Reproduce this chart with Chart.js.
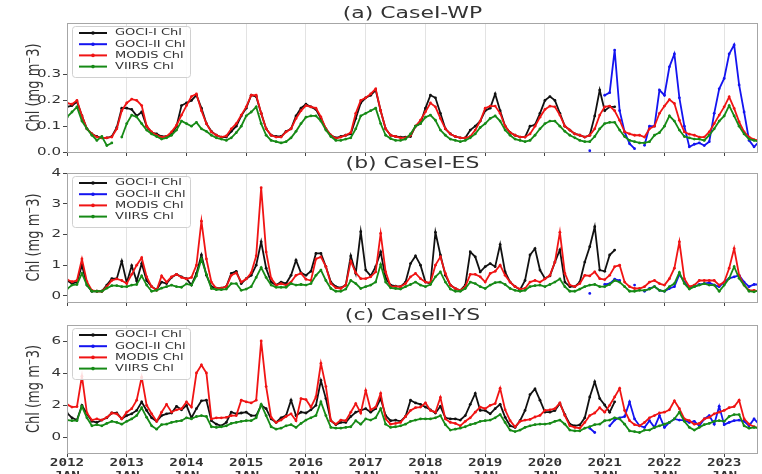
<!DOCTYPE html>
<html>
<head>
<meta charset="utf-8">
<script src="https://cdn.jsdelivr.net/npm/chart.js@4.4.1/dist/chart.umd.min.js"></script>
<style>
  html, body { margin: 0; padding: 0; background: #fff; }
  #wrap { position: relative; width: 762px; height: 474px; overflow: hidden; background: #fff; }
  #wrap canvas { position: absolute; left: 0; }
</style>
</head>
<body>
<div id="wrap">
  <canvas id="ca" width="762" height="160" style="top:0px"></canvas>
  <canvas id="cb" width="762" height="156" style="top:154px"></canvas>
  <canvas id="cc" width="762" height="168" style="top:306px"></canvas>
</div>
<script>
// Monthly chlorophyll-a means, first value = January 2012.
// GOCI-I series start in Jan 2012, GOCI-II series start at month index 105 (Oct 2020).
const years = [2012, 2013, 2014, 2015, 2016, 2017, 2018, 2019, 2020, 2021, 2022, 2023];
const yearLabels = ["2012", "2013", "2014", "2015", "2016", "2017", "2018", "2019", "2020", "2021", "2022", "2023"];
const monthLabel = "JAN";
const seriesNames = ["GOCI-I Chl", "GOCI-II Chl", "MODIS Chl", "VIIRS Chl"];
const goci2Start = 105;

// (a) CaseI-WP
const goci1A = [
  0.175, 0.18, 0.195, 0.14, 0.09, 0.07, 0.06, 0.055, 0.055, 0.06, 0.095, 0.17,
  0.17, 0.165, 0.14, 0.155, 0.1, 0.075, 0.07, 0.06, 0.06, 0.07, 0.1, 0.18,
  0.19, 0.2, 0.22, 0.17, 0.11, 0.08, 0.065, 0.058, 0.058, 0.08, 0.1, 0.14,
  0.17, 0.22, 0.215, 0.15, 0.09, 0.065, 0.06, 0.06, 0.08, 0.09, 0.14, 0.17,
  0.185, 0.175, 0.165, 0.13, 0.09, 0.065, 0.055, 0.06, 0.065, 0.07, 0.13, 0.19,
  0.21, 0.22, 0.24, 0.16, 0.09, 0.065, 0.06, 0.058, 0.058, 0.06, 0.1, 0.11,
  0.17, 0.22, 0.21, 0.15, 0.09, 0.07, 0.06, 0.055, 0.055, 0.085, 0.1, 0.12,
  0.16, 0.17, 0.225, 0.16, 0.1, 0.075, 0.065, 0.058, 0.058, 0.1, 0.105, 0.15,
  0.2, 0.215, 0.2, 0.15, 0.1, 0.085, 0.07, 0.065, 0.058, 0.065, 0.14, 0.24,
  0.16, 0.175, 0.175
];
const goci2A = [
  0.005, null, null, 0.22, 0.23, 0.395, 0.16, 0.078, 0.032, 0.013, null, 0.026, 0.1, 0.1, 0.24,
  0.22, 0.33, 0.38, 0.21, 0.1, 0.02, 0.03, 0.035, 0.025, 0.04, 0.15, 0.245,
  0.285, 0.38, 0.415, 0.26, 0.155, 0.045, 0.02, 0.04
];
const modisA = [
  0.19, 0.185, 0.2, 0.14, 0.09, 0.07, 0.058, 0.055, 0.055, 0.058, 0.09, 0.16,
  0.19, 0.205, 0.2, 0.18, 0.1, 0.078, 0.065, 0.058, 0.06, 0.078, 0.104, 0.143,
  0.18, 0.215, 0.225, 0.16, 0.11, 0.078, 0.065, 0.058, 0.062, 0.09, 0.11, 0.143,
  0.175, 0.22, 0.22, 0.15, 0.09, 0.065, 0.058, 0.058, 0.078, 0.09, 0.13, 0.16,
  0.18, 0.175, 0.17, 0.136, 0.09, 0.065, 0.052, 0.058, 0.065, 0.075, 0.15, 0.2,
  0.21, 0.225, 0.245, 0.16, 0.09, 0.065, 0.06, 0.055, 0.055, 0.065, 0.1, 0.123,
  0.156, 0.19, 0.175, 0.13, 0.09, 0.07, 0.06, 0.055, 0.055, 0.06, 0.085, 0.12,
  0.17, 0.178, 0.178, 0.15, 0.1, 0.075, 0.065, 0.058, 0.058, 0.07, 0.1, 0.135,
  0.165, 0.178, 0.175, 0.143, 0.1, 0.085, 0.07, 0.065, 0.058, 0.065, 0.09, 0.143,
  0.175, 0.178, 0.16, 0.123, 0.078, 0.07, 0.065, 0.065, 0.058, 0.09, 0.1, 0.15,
  0.178, 0.203, 0.188, 0.123, 0.078, 0.069, 0.065, 0.058, 0.058, 0.078, 0.11, 0.143,
  0.175, 0.214, 0.169, 0.117, 0.078, 0.058, 0.048, 0.045
];
const viirsA = [
  0.135, 0.155, 0.175, 0.12, 0.09, 0.065, 0.045, 0.06, 0.025, 0.035, null, 0.058,
  0.11, 0.143, 0.136, 0.11, 0.085, 0.07, 0.06, 0.05, 0.055, 0.065, 0.085, 0.12,
  0.11, 0.1, 0.115, 0.09, 0.08, 0.065, 0.055, 0.05, 0.045, 0.055, 0.075, 0.1,
  0.14, 0.155, 0.175, 0.11, 0.065, 0.045, 0.04, 0.035, 0.04, 0.055, 0.08, 0.11,
  0.135, 0.14, 0.14, 0.12, 0.085, 0.06, 0.045, 0.045, 0.05, 0.055, 0.09, 0.14,
  0.15, 0.16, 0.17, 0.11, 0.065, 0.052, 0.045, 0.045, 0.05, 0.07, 0.1, 0.11,
  0.135, 0.143, 0.123, 0.085, 0.065, 0.05, 0.045, 0.04, 0.045, 0.055, 0.07, 0.095,
  0.11, 0.13, 0.14, 0.12, 0.085, 0.065, 0.05, 0.045, 0.04, 0.045, 0.065, 0.09,
  0.11, 0.12, 0.12, 0.1, 0.08, 0.065, 0.055, 0.045, 0.04, 0.04, 0.06, 0.09,
  0.11, 0.115, 0.115, 0.085, 0.06, 0.045, 0.04, 0.035, 0.035, 0.04, 0.065, 0.075,
  0.1, 0.14, 0.12, 0.085, 0.06, 0.055, 0.05, 0.05, 0.045, 0.065, 0.09, 0.12,
  0.14, 0.18, 0.14, 0.1, 0.07, 0.05, 0.045, 0.04
];

// (b) CaseI-ES
const goci1B = [
  0.5, 0.4, 0.45, 1.0, 0.35, 0.15, 0.15, 0.15, 0.35, 0.56, 0.56, 1.13,
  0.43, 0.98, 0.48, 1.05, 0.5, 0.3, 0.2, 0.45, 0.4, 0.6, 0.7, 0.62,
  0.56, 0.35, 0.73, 1.33, 0.67, 0.3, 0.25, 0.25, 0.3, 0.73, 0.8, 0.4,
  0.56, 0.67, 1.0, 1.76, 0.9, 0.45, 0.35, 0.45, 0.4, 0.67, 1.16, 0.75,
  0.67, 0.8, 1.38, 1.38, 0.95, 0.45, 0.3, 0.26, 0.35, 1.3, 0.73, 2.09,
  0.84, 0.65, 0.95, 1.43, 0.57, 0.35, 0.32, 0.3, 0.45, 1.05, 1.3, 1.0,
  0.45, 0.4, 2.07, 1.33, 0.67, 0.35, 0.24, 0.18, 0.35, 1.43, 1.27, 0.78,
  0.95, 1.05, 0.95, 1.67, 0.78, 0.45, 0.3, 0.2, 0.5, 1.33, 1.54, 0.84,
  0.57, 0.65, 1.1, 1.5, 0.45, 0.3, 0.3, 0.45, 1.1, 1.6, 2.25, 0.84,
  0.8, 1.33, 1.49
];
const goci2B = [
  0.08, null, null, 0.37, 0.4, 0.54, 0.5, null, null, 0.35, null, 0.15, 0.24, 0.3, 0.18,
  0.15, 0.24, 0.3, 0.7, 0.45, 0.26, 0.3, 0.37, 0.4, 0.43, 0.35, 0.3,
  0.45, 0.57, 0.62, 0.67, 0.45, 0.3, 0.37, 0.37
];
const modisB = [
  0.53, 0.46, 0.5, 1.2, 0.46, 0.18, 0.15, 0.15, 0.3, 0.5, 0.55, 0.5,
  0.4, 0.7, 1.0, 1.24, 0.62, 0.3, 0.18, 0.65, 0.45, 0.62, 0.7, 0.6,
  0.55, 0.6, 1.0, 2.43, 1.2, 0.45, 0.24, 0.25, 0.3, 0.67, 0.75, 0.45,
  0.55, 0.75, 1.3, 3.52, 1.43, 0.57, 0.35, 0.4, 0.35, 0.45, 0.67, 0.73,
  0.54, 0.5, 1.2, 1.27, 0.95, 0.4, 0.26, 0.24, 0.35, 1.13, 0.75, 0.56,
  0.56, 0.62, 0.78, 2.03, 0.78, 0.3, 0.3, 0.3, 0.4, 0.62, 0.73, 0.56,
  0.45, 0.43, 1.0, 1.27, 0.73, 0.35, 0.24, 0.18, 0.3, 0.7, 0.7, 0.62,
  0.45, 0.73, 0.8, 1.0, 0.67, 0.45, 0.3, 0.22, 0.24, 0.45, 0.5, 0.45,
  0.55, 0.67, 1.1, 2.07, 0.73, 0.35, 0.3, 0.4, 0.67, 0.65, 0.78, 0.56,
  0.53, 0.67, 0.95, 1.0, 0.45, 0.3, 0.24, 0.24, 0.3, 0.45, 0.5, 0.4,
  0.35, 0.56, 0.9, 1.76, 0.56, 0.3, 0.35, 0.5, 0.5, 0.5, 0.5, 0.35,
  0.45, 0.9, 1.54, 0.67, 0.35, 0.18, 0.18, 0.15
];
const viirsB = [
  0.22, 0.35, 0.37, 0.73, 0.35, 0.15, 0.15, 0.15, 0.25, 0.33, 0.33, 0.3,
  0.3, 0.35, 0.37, 0.65, 0.35, 0.15, 0.18, 0.25, 0.3, 0.35, 0.3, 0.28,
  0.39, 0.35, 0.65, 1.2, 0.7, 0.24, 0.2, 0.2, 0.22, 0.4, 0.4, 0.18,
  0.22, 0.3, 0.6, 0.92, 0.6, 0.35, 0.28, 0.28, 0.28, 0.4, 0.35, 0.37,
  0.35, 0.4, 0.67, 0.84, 0.5, 0.24, 0.15, 0.15, 0.22, 0.5, 0.4, 0.24,
  0.3, 0.35, 0.45, 1.02, 0.45, 0.26, 0.24, 0.22, 0.3, 0.37, 0.45, 0.35,
  0.3, 0.37, 0.62, 0.78, 0.45, 0.22, 0.15, 0.15, 0.24, 0.45, 0.4, 0.3,
  0.24, 0.35, 0.43, 0.45, 0.37, 0.24, 0.18, 0.15, 0.18, 0.3, 0.33, 0.35,
  0.3, 0.37, 0.45, 0.55, 0.3, 0.15, 0.15, 0.22, 0.3, 0.35, 0.37, 0.3,
  0.3, 0.37, 0.5, 0.45, 0.3, 0.15, 0.15, 0.18, 0.18, 0.22, 0.3, 0.18,
  0.15, 0.3, 0.4, 0.76, 0.4, 0.22, 0.3, 0.35, 0.4, 0.35, 0.35, 0.15,
  0.35, 0.57, 0.95, 0.57, 0.35, 0.15, 0.13, 0.18
];

// (c) CaseII-YS
const goci1C = [
  1.5, 1.2, 1.06, 1.98, 1.45, 0.98, 0.91, 1.06, 1.2, 1.5, 1.5, 1.13,
  1.34, 1.45, 1.66, 2.19, 1.66, 1.2, 0.98, 1.34, 1.45, 1.5, 1.92, 1.7,
  1.98, 1.2, 1.77, 2.26, 2.3, 1.02, 0.8, 0.7, 0.91, 1.55, 1.45, 1.5,
  1.55, 1.34, 1.34, 1.98, 1.77, 1.13, 0.91, 1.2, 1.34, 2.3, 1.34, 1.55,
  1.5, 1.7, 1.98, 3.53, 2.4, 1.02, 0.77, 0.91, 0.91, 1.28, 1.55, 1.66,
  1.77, 1.55, 1.77, 2.4, 1.34, 1.02, 1.06, 0.98, 1.28, 2.3, 2.13, 2.04,
  1.87, 1.7, 1.5, 1.92, 1.2, 1.13, 1.13, 1.06, 1.34, 2.04, 2.72, 1.66,
  1.66, 1.45, 1.77, 2.04, 1.23, 0.7, 0.6, 1.02, 1.66, 2.65, 3.0, 2.3,
  1.55, 1.55, 1.65, 2.1, 1.4, 0.8, 0.7, 0.75, 1.2, 2.5, 3.45, 2.4,
  2.0, 1.55, 2.2
];
const goci2C = [
  0.55, 0.28, null, null, 0.7, 1.06, 1.2, 1.28, 2.19, 1.13, 0.7, 0.6, 1.02, 0.6, 1.34,
  0.6, 0.91, 1.13, 1.06, 1.06, 0.91, 0.98, 0.7, 1.13, 1.34, 0.8, 1.92,
  0.77, 0.91, 1.02, 1.06, 0.98, 0.7, 1.13, 0.8
];
const modisC = [
  2.04, 1.87, 1.9, 3.8, 1.5, 1.06, 1.13, 1.06, 1.23, 1.5, 1.45, 1.13,
  1.55, 1.77, 2.3, 3.74, 1.98, 1.45, 0.98, 1.55, 2.04, 1.55, 1.7, 1.77,
  2.19, 1.87, 4.0, 4.5, 4.0, 1.13, 1.2, 1.2, 1.23, 1.34, 1.34, 2.3,
  2.2, 2.13, 2.3, 6.0, 3.15, 1.23, 0.91, 1.06, 1.28, 1.45, 1.02, 2.4,
  2.34, 1.87, 2.5, 4.6, 3.15, 1.02, 0.8, 1.06, 1.02, 1.55, 2.09, 1.5,
  2.9, 1.7, 1.87, 2.72, 1.13, 0.8, 0.85, 0.91, 1.28, 1.66, 1.83, 1.87,
  2.13, 1.66, 1.55, 2.47, 1.13, 0.91, 0.85, 0.7, 0.98, 1.2, 1.55, 1.87,
  1.77, 1.98, 2.09, 3.04, 1.7, 1.02, 0.64, 0.98, 1.06, 1.1, 1.25, 1.35,
  1.66, 1.7, 1.77, 2.13, 1.34, 0.7, 0.6, 0.55, 0.91, 1.34, 1.5, 1.83,
  1.55, 1.98, 2.5, 3.04, 1.66, 1.02, 0.77, 0.7, 0.91, 1.2, 1.34, 1.5,
  1.55, 1.7, 2.26, 1.77, 1.13, 1.02, 0.8, 0.85, 1.13, 1.23, 1.45, 1.55,
  1.66, 1.83, 1.9, 2.3, 1.13, 0.8, 0.64, 0.55
];
const viirsC = [
  1.06, 1.02, 1.02, 1.92, 1.2, 0.7, 0.77, 0.7, 0.85, 0.98, 0.91, 0.8,
  0.98, 1.13, 1.34, 1.83, 1.23, 0.7, 0.49, 0.77, 0.8, 0.91, 0.98, 1.02,
  1.2, 1.13, 1.28, 1.34, 1.28, 0.64, 0.6, 0.64, 0.7, 0.85, 0.91, 0.98,
  1.02, 1.02, 1.2, 2.04, 1.34, 0.64, 0.49, 0.55, 0.7, 0.77, 0.6, 0.85,
  1.06, 1.2, 1.34, 2.19, 1.34, 0.6, 0.55, 0.55, 0.6, 0.64, 1.02, 0.8,
  1.13, 1.06, 1.2, 1.77, 0.8, 0.6, 0.64, 0.7, 0.8, 0.98, 1.06, 1.13,
  1.13, 1.13, 1.2, 1.34, 0.77, 0.43, 0.49, 0.55, 0.64, 0.77, 0.85, 0.98,
  1.02, 1.06, 1.2, 1.4, 0.91, 0.43, 0.34, 0.43, 0.6, 0.7, 0.77, 0.8,
  0.8, 0.85, 0.98, 1.06, 0.8, 0.43, 0.38, 0.38, 0.55, 0.64, 0.77, 0.8,
  1.02, 1.06, 1.2, 1.13, 0.8, 0.38, 0.34, 0.28, 0.43, 0.43, 0.6, 0.7,
  0.8, 0.91, 1.13, 1.55, 0.98, 0.6, 0.43, 0.6, 0.77, 0.85, 0.98, 1.02,
  0.98, 1.28, 1.4, 1.4, 0.7, 0.55, 0.6, 0.55
];

// y-axis ticks per panel
const yTicksA = [0, 0.1, 0.2, 0.3];
const yLabelsA = ["0.0", "0.1", "0.2", "0.3"];
const yTicksB = [0, 1, 2, 3, 4];
const yLabelsB = ["0", "1", "2", "3", "4"];
const yTicksC = [0, 2, 4, 6];
const yLabelsC = ["0", "2", "4", "6"];

const COLORS = ["#111111", "#1414f0", "#f01414", "#168a16"];
const SX = 1.37;             // horizontal stretch of all lettering
const X_MIN = 2012, X_MAX = 2023.566;
const TEXT = "#333333";
const FRAME = "#a6a6a6";

function toPoints(arr, start) {
  return arr.map((v, k) => ({ x: 2012 + (start + k) / 12, y: v }));
}

function sText(ctx, str, x, y, align, font, sx) {
  ctx.save();
  ctx.translate(x, y);
  ctx.scale(sx, 1);
  ctx.font = font;
  ctx.fillStyle = TEXT;
  ctx.textAlign = align;
  ctx.textBaseline = "middle";
  ctx.fillText(str, 0, 0);
  ctx.restore();
}

const decorPlugin = {
  id: "decor",
  afterDraw(chart, args, opts) {
    const ctx = chart.ctx;
    const a = chart.chartArea;
    // frame
    ctx.save();
    ctx.strokeStyle = FRAME;
    ctx.lineWidth = 1;
    ctx.strokeRect(a.left + 0.5, a.top + 0.5, a.right - a.left - 1, a.bottom - a.top);
    ctx.restore();

    // panel title
    sText(ctx, opts.title, (a.left + a.right) / 2, a.top - 9, "center", '16px "DejaVu Sans"', SX);

    // y tick labels
    const ys = chart.scales.y;
    opts.yTicks.forEach((v, k) => {
      sText(ctx, opts.yLabels[k], 61, ys.getPixelForValue(v), "right", '11px "DejaVu Sans"', SX);
    });

    // y axis title
    ctx.save();
    ctx.translate(34, (a.top + a.bottom) / 2);
    ctx.scale(SX, 1);
    ctx.rotate(-Math.PI / 2);
    ctx.font = '13px "DejaVu Sans"';
    ctx.fillStyle = TEXT;
    ctx.textAlign = "center";
    ctx.textBaseline = "middle";
    ctx.fillText("Chl (mg m\u207B3)", 0, 0);
    ctx.restore();

    // x tick labels (bottom panel only)
    if (opts.showX) {
      const xs = chart.scales.x;
      years.forEach((yr, k) => {
        const px = xs.getPixelForValue(yr);
        sText(ctx, yearLabels[k], px, a.bottom + 10, "center", 'bold 11px "DejaVu Sans Mono"', 1.3);
        sText(ctx, monthLabel, px, a.bottom + 23, "center", 'bold 11px "DejaVu Sans Mono"', 1.3);
      });
    }

    // legend
    const bx = a.left + 5, by = a.top + 3, bw = 118, bh = 51;
    ctx.save();
    ctx.fillStyle = "rgba(255,255,255,0.85)";
    ctx.strokeStyle = "#d0d0d0";
    ctx.lineWidth = 1;
    ctx.beginPath();
    ctx.roundRect(bx + 0.5, by + 0.5, bw, bh, 3);
    ctx.fill();
    ctx.stroke();
    chart.data.datasets.forEach((ds, k) => {
      const ry = a.top + 10 + k * 11.2;
      ctx.strokeStyle = ds.borderColor;
      ctx.lineWidth = 2;
      ctx.beginPath();
      ctx.moveTo(a.left + 12, ry);
      ctx.lineTo(a.left + 40, ry);
      ctx.stroke();
      ctx.fillStyle = ds.borderColor;
      ctx.beginPath();
      ctx.arc(a.left + 26, ry, 1.8, 0, Math.PI * 2);
      ctx.fill();
      sText(ctx, ds.label, a.left + 48, ry, "left", '9.5px "DejaVu Sans"', SX);
    });
    ctx.restore();
  }
};

function makePanel(canvasId, cfg) {
  const sets = [
    { label: seriesNames[0], data: toPoints(cfg.goci1, 0), borderColor: COLORS[0], backgroundColor: COLORS[0], order: 4 },
    { label: seriesNames[1], data: toPoints(cfg.goci2, goci2Start), borderColor: COLORS[1], backgroundColor: COLORS[1], order: 3 },
    { label: seriesNames[2], data: toPoints(cfg.modis, 0), borderColor: COLORS[2], backgroundColor: COLORS[2], order: 2 },
    { label: seriesNames[3], data: toPoints(cfg.viirs, 0), borderColor: COLORS[3], backgroundColor: COLORS[3], order: 1 }
  ];
  sets.forEach(s => {
    s.borderWidth = 1.8;
    s.pointRadius = 1.4;
    s.pointBorderWidth = 0;
    s.pointBackgroundColor = s.borderColor;
    s.tension = 0;
    s.spanGaps = false;
    s.fill = false;
  });
  return new Chart(document.getElementById(canvasId), {
    type: "line",
    data: { datasets: sets },
    options: {
      responsive: false,
      animation: false,
      devicePixelRatio: 1,
      layout: { padding: { top: cfg.padTop, left: 0, right: 0, bottom: 0 } },
      plugins: {
        legend: { display: false },
        tooltip: { enabled: false },
        title: { display: false },
        decor: { title: cfg.title, yTicks: cfg.yTicks, yLabels: cfg.yLabels, showX: cfg.showX }
      },
      scales: {
        x: {
          type: "linear",
          min: X_MIN,
          max: X_MAX,
          afterBuildTicks: s => { s.ticks = years.map(v => ({ value: v })); },
          afterFit: s => { s.height = cfg.xAxisH; },
          ticks: { display: false },
          grid: { color: "#e3e3e3", lineWidth: 1, drawTicks: true, tickLength: 4, tickColor: "#444", tickWidth: 1 },
          border: { display: false }
        },
        y: {
          min: cfg.yMin,
          max: cfg.yMax,
          afterBuildTicks: s => { s.ticks = cfg.yTicks.map(v => ({ value: v })); },
          afterFit: s => { s.width = 67; },
          ticks: { display: false },
          grid: { drawOnChartArea: false, drawTicks: true, tickLength: 4, tickColor: "#444", tickWidth: 1 },
          border: { display: false }
        }
      }
    },
    plugins: [decorPlugin]
  });
}

makePanel("ca", {
  title: "(a) CaseI-WP", goci1: goci1A, goci2: goci2A, modis: modisA, viirs: viirsA,
  yMin: 0, yMax: 0.5, yTicks: yTicksA, yLabels: yLabelsA, padTop: 23, xAxisH: 8, showX: false
});
makePanel("cb", {
  title: "(b) CaseI-ES", goci1: goci1B, goci2: goci2B, modis: modisB, viirs: viirsB,
  yMin: -0.2, yMax: 4, yTicks: yTicksB, yLabels: yLabelsB, padTop: 19, xAxisH: 8, showX: false
});
makePanel("cc", {
  title: "(c) CaseII-YS", goci1: goci1C, goci2: goci2C, modis: modisC, viirs: viirsC,
  yMin: -1, yMax: 7, yTicks: yTicksC, yLabels: yLabelsC, padTop: 19, xAxisH: 21, showX: true
});
</script>
</body>
</html>
